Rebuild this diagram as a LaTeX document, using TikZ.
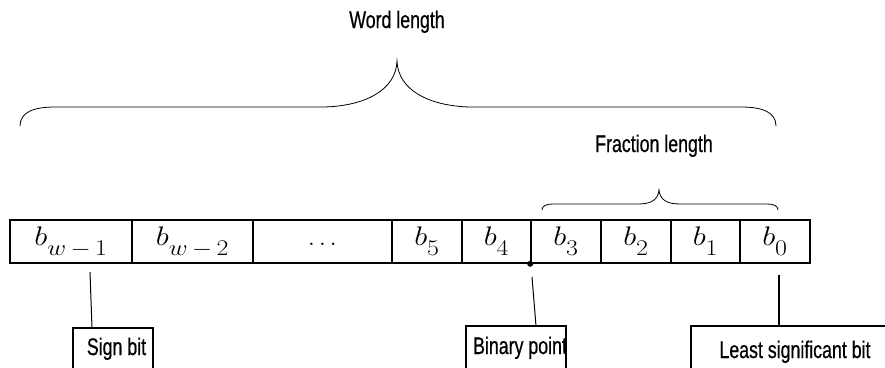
\documentclass[tikz,border=0pt]{standalone}
\usepackage{fontspec}
\usepackage{graphicx}
\usepackage{tikz}
\usetikzlibrary{positioning,calc}
\newfontfamily\labelfont{Liberation Sans}[FakeStretch=0.74, FakeBold=0.6]
% bit with a lowered index
\newcommand{\bitname}[1]{\scalebox{1.25}[1.08]{$b_{\lower6pt\hbox{$\scriptstyle #1$}}$}}

\tikzset{
  cell/.style={draw, line width=1.6pt, minimum height=43pt, inner sep=0pt,
    text height=17pt, text depth=10pt, font=\Huge},
  tag/.style={anchor=base, inner sep=0pt, font=\labelfont\fontsize{24}{28}\selectfont},
  tagbox/.style={line width=1.4pt},
  brace/.style={line width=0.8pt},
  lead/.style={line width=1pt}
}

\begin{document}
\begin{tikzpicture}[x=1pt, y=-1pt]
  \useasboundingbox (0,0) rectangle (885,367);

  % Brace labels
  \node[tag] (word) at (397,28) {Word length};
  \node[tag] (frac) at (654,152) {Fraction length};

  % Word length brace
  \draw[brace] (20,126) .. controls (20,112) and (34,107) .. (55,107) -- (324,107)
    .. controls (365,106) and (396,90) .. (397,61)
    .. controls (398,90) and (429,106) .. (470,107) -- (741,107)
    .. controls (762,107) and (776,112) .. (776,126);

  % Fraction length brace
  \draw[brace] (542,210) .. controls (542,206) and (546,204) .. (553,204) -- (638,204)
    .. controls (651,204) and (658,200) .. (659,190)
    .. controls (660,200) and (667,204) .. (680,204) -- (767,204)
    .. controls (774,204) and (778,206) .. (778,210);

  % Bit cells
  \foreach \n/\x/\w/\lab in {bw1/10/122/{\bitname{w\,-\,1}}, bw2/132/121/{\bitname{w\,-\,2}},
      dots/253/139/{$\ldots$}, b5/392/70/{\bitname{5}}, b4/462/69/{\bitname{4}},
      b3/531/70/{\bitname{3}}, b2/601/70/{\bitname{2}}, b1/671/69/{\bitname{1}},
      b0/740/70/{\bitname{0}}}
    \node[cell, minimum width=\w pt] (\n) at (\x+\w/2, 241.5) {\lab};

  % Binary point
  \node[circle, fill, inner sep=0pt, minimum size=6pt] (bp) at (b3.south west) {};

  % Labels
  \node[tag] (sign) at (116.5,355) {Sign bit};
  \node[tag] (point) at (520,354) {Binary point};
  \node[tag] (lsb) at (795,358) {Least significant bit};

  % Label boxes, open at the bottom
  \draw[tagbox] (73,369) |- (153,328) -- (153,369);
  \draw[tagbox] (466,369) |- (566,326) -- (566,369);
  \draw[tagbox] (691,369) |- (887,326);

  % Leader lines
  \coordinate (signtop) at (90,272);
  \coordinate (signfoot) at (92,328);
  \coordinate (pointtop) at (532,277);
  \coordinate (pointfoot) at (536,326);
  \coordinate (lsbtop) at (779,275);
  \coordinate (lsbfoot) at (779,326);
  \draw[lead] (signtop) -- (signfoot);
  \draw[lead] (pointtop) -- (pointfoot);
  \draw[lead, line width=1.6pt] (lsbtop) -- (lsbfoot);
\end{tikzpicture}
\end{document}
